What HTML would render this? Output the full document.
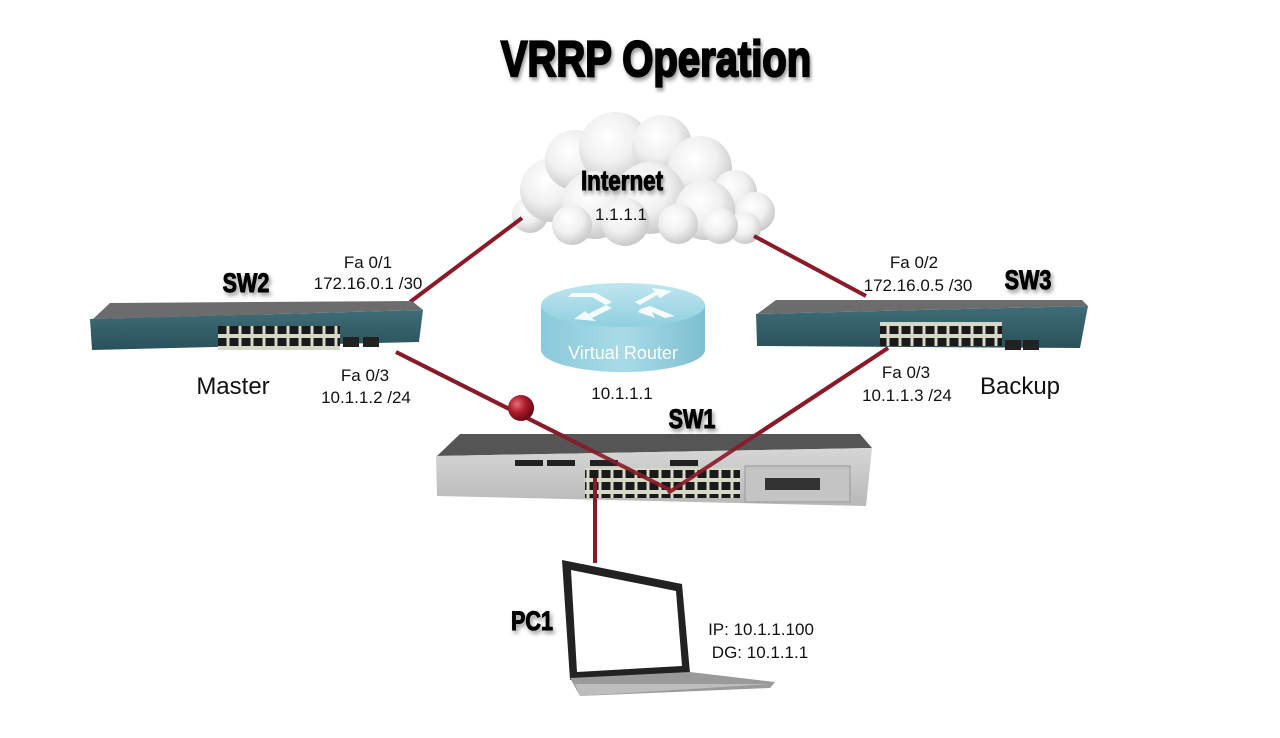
<!DOCTYPE html>
<html><head><meta charset="utf-8"><style>
html,body{margin:0;padding:0;background:#fff;width:1280px;height:738px;overflow:hidden}
svg{display:block}
.t{font-family:"Liberation Sans",sans-serif;fill:#111}
.b{font-family:"Liberation Sans Narrow","Liberation Sans",sans-serif;font-weight:bold;fill:#000;stroke:#000}
</style></head><body>
<svg width="1280" height="738" viewBox="0 0 1280 738">
<defs>
<radialGradient id="cg" cx="40%" cy="35%" r="65%"><stop offset="0" stop-color="#fff"/><stop offset="0.55" stop-color="#f0f0f0"/><stop offset="1" stop-color="#cacaca"/></radialGradient>
<linearGradient id="rt" x1="0" y1="0" x2="0" y2="1"><stop offset="0" stop-color="#bfe6ef"/><stop offset="1" stop-color="#8fcfdf"/></linearGradient>
<linearGradient id="rs" x1="0" y1="0" x2="1" y2="0"><stop offset="0" stop-color="#8bc9da"/><stop offset="0.5" stop-color="#a8dbe7"/><stop offset="1" stop-color="#7dbfd1"/></linearGradient>
<linearGradient id="s1" x1="0" y1="0" x2="0" y2="1"><stop offset="0" stop-color="#d6d6d6"/><stop offset="1" stop-color="#b8b8b8"/></linearGradient>
<linearGradient id="sw" x1="0" y1="0" x2="0" y2="1"><stop offset="0" stop-color="#3f6d78"/><stop offset="1" stop-color="#2a515b"/></linearGradient>
<radialGradient id="ball" cx="35%" cy="35%" r="65%"><stop offset="0" stop-color="#e0707a"/><stop offset="0.5" stop-color="#b01c2c"/><stop offset="1" stop-color="#6a0a14"/></radialGradient>
<filter id="sh"><feDropShadow dx="2" dy="3" stdDeviation="2" flood-color="#000" flood-opacity="0.4"/></filter>
<pattern id="pt" width="12" height="12" patternUnits="userSpaceOnUse"><rect width="12" height="12" fill="#d8d8c8"/><rect x="1.5" y="2" width="9" height="8" fill="#1a1a1a"/></pattern>
</defs>

<text x="656" y="76" text-anchor="middle" class="b" font-size="50" stroke-width="2.2" filter="url(#sh)" transform="translate(656 0) scale(0.8 1) translate(-656 0)">VRRP Operation</text>

<!-- cloud -->
<g fill="url(#cg)">
<circle cx="530" cy="215" r="18"/><circle cx="552" cy="190" r="32"/><circle cx="575" cy="160" r="30"/>
<circle cx="615" cy="148" r="36"/><circle cx="662" cy="145" r="30"/><circle cx="700" cy="168" r="32"/>
<circle cx="735" cy="192" r="22"/><circle cx="755" cy="212" r="20"/><circle cx="745" cy="228" r="16"/>
<circle cx="595" cy="205" r="34"/><circle cx="650" cy="198" r="36"/><circle cx="705" cy="210" r="30"/>
<circle cx="572" cy="225" r="20"/><circle cx="625" cy="222" r="24"/><circle cx="678" cy="224" r="20"/><circle cx="720" cy="226" r="18"/>
</g>
<text x="622" y="190" text-anchor="middle" class="b" font-size="28" stroke-width="1" filter="url(#sh)" transform="translate(622 0) scale(0.8 1) translate(-622 0)">Internet</text>
<text x="621" y="220" text-anchor="middle" class="t" font-size="17">1.1.1.1</text>

<!-- links -->
<g stroke="#8a1a28" stroke-width="4" fill="none">
<line x1="410" y1="302" x2="522" y2="218"/>
<line x1="754" y1="236" x2="866" y2="296"/>
<line x1="396" y1="352" x2="670" y2="490"/>
<line x1="888" y1="348" x2="668" y2="493"/>
<line x1="595" y1="478" x2="595" y2="563"/>
</g>

<!-- router -->
<path d="M541 305 L541 350 A82 22 0 0 0 705 350 L705 305 Z" fill="url(#rs)"/>
<ellipse cx="623" cy="305" rx="82" ry="22" fill="url(#rt)"/>
<g fill="#fff" opacity="0.9">
<polygon points="572,293 596,293 612,302 606,305 592,297 568,297"/>
<polygon points="635,302 655,292 652,288 672,291 660,298 657,295 640,305"/>
<polygon points="612,308 592,318 596,321 574,319 585,311 588,314 606,305"/>
<polygon points="640,309 650,306 675,316 665,318 652,312 655,318 638,312"/>
</g>
<text x="623" y="359" text-anchor="middle" font-family="Liberation Sans,sans-serif" font-size="18" fill="#fff">Virtual Router</text>

<!-- SW2 -->
<polygon points="110,303 412,301 423,310 93,319" fill="#6c6c6c"/>
<polygon points="90,319 423,310 419,342 92,350" fill="url(#sw)"/>
<rect x="218" y="326" width="122" height="24" fill="url(#pt)"/>
<rect x="343" y="337" width="16" height="10" fill="#222"/><rect x="363" y="337" width="16" height="10" fill="#222"/>
<!-- SW3 -->
<polygon points="776,300 1082,300 1088,306 757,314" fill="#6c6c6c"/>
<polygon points="756,314 1088,306 1080,348 757,346" fill="url(#sw)"/>
<rect x="880" y="322" width="122" height="24" fill="url(#pt)"/>
<rect x="1005" y="340" width="16" height="10" fill="#222"/><rect x="1023" y="340" width="16" height="10" fill="#222"/>

<!-- SW1 -->
<polygon points="460,434 860,434 872,448 437,456" fill="#555"/>
<polygon points="436,456 872,448 866,506 437,496" fill="url(#s1)"/>
<rect x="585" y="468" width="155" height="30" fill="url(#pt)"/>
<rect x="745" y="466" width="105" height="36" fill="#c4c4c4" stroke="#999"/>
<rect x="765" y="478" width="55" height="12" fill="#333"/>
<g fill="#222"><rect x="515" y="460" width="28" height="6"/><rect x="547" y="460" width="28" height="6"/><rect x="590" y="460" width="28" height="6"/><rect x="670" y="460" width="28" height="6"/></g>
<line x1="396" y1="352" x2="670" y2="490" stroke="#8a1a28" stroke-width="4" opacity="0.9"/>
<line x1="888" y1="348" x2="668" y2="493" stroke="#8a1a28" stroke-width="4" opacity="0.9"/>
<line x1="595" y1="478" x2="595" y2="500" stroke="#8a1a28" stroke-width="4"/>
<circle cx="521" cy="408" r="13" fill="url(#ball)"/>

<!-- laptop -->
<polygon points="562,560 682,584 690,673 570,680" fill="#222"/>
<polygon points="571,570 676,591 682,666 577,672" fill="#fff"/>
<polygon points="570,678 690,672 775,682 770,688 580,696" fill="#9a9a9a"/>
<polygon points="575,684 770,684 580,696" fill="#bdbdbd"/>

<!-- labels -->
<g class="t" font-size="17" text-anchor="middle">
<text x="368" y="268">Fa 0/1</text><text x="368" y="289">172.16.0.1 /30</text>
<text x="365" y="381">Fa 0/3</text><text x="366" y="403">10.1.1.2 /24</text>
<text x="914" y="268">Fa 0/2</text><text x="918" y="291">172.16.0.5 /30</text>
<text x="906" y="378">Fa 0/3</text><text x="907" y="401">10.1.1.3 /24</text>
<text x="622" y="399">10.1.1.1</text>
<text x="761" y="635">IP: 10.1.1.100</text><text x="760" y="658">DG: 10.1.1.1</text>
</g>
<g class="t" font-size="24" text-anchor="middle">
<text x="233" y="394">Master</text><text x="1020" y="394">Backup</text>
</g>
<g class="b" font-size="27" text-anchor="middle" stroke-width="1" filter="url(#sh)">
<text x="246" y="292" transform="translate(246 0) scale(0.8 1) translate(-246 0)">SW2</text>
<text x="1028" y="289" transform="translate(1028 0) scale(0.8 1) translate(-1028 0)">SW3</text>
<text x="692" y="428" transform="translate(692 0) scale(0.8 1) translate(-692 0)">SW1</text>
<text x="532" y="630" transform="translate(532 0) scale(0.8 1) translate(-532 0)">PC1</text>
</g>
</svg>
</body></html>
